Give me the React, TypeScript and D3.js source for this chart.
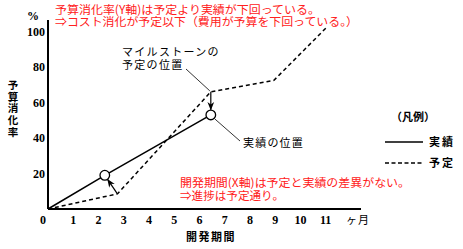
import React from 'react';
import * as d3 from 'd3';

// months / budget-consumption %
const actualMonths = [0, 2.25, 6.45];
const actualValues = [0, 19, 53];
const plannedMonths = [0, 2.75, 6.45, 8.95, 11.05];
const plannedValues = [0, 8.5, 66, 72.5, 102.5];
const xTicks = [0, 1, 2, 3, 4, 5, 6, 7, 8, 9, 10, 11];
const yTicks = [20, 40, 60, 80, 100];

const W = 463;
const H = 249;

const jp = "'Noto Sans CJK JP', 'Noto Sans', sans-serif";
const num = "'Liberation Serif', 'DejaVu Serif', serif";

export default function App() {
	const x = d3.scaleLinear().domain([0, 12.4]).range([48, 361]);
	const y = d3.scaleLinear().domain([0, 100]).range([209, 31.5]);

	const actual = actualMonths.map((m, i) => [m, actualValues[i]] as [number, number]);
	const planned = plannedMonths.map((m, i) => [m, plannedValues[i]] as [number, number]);

	const line = d3.line<[number, number]>()
		.x(d => x(d[0]))
		.y(d => y(d[1]));

	const r = 4.8;
	// arrow from planned point to actual point, stopping at the circle edge
	const arrow = (p: [number, number], a: [number, number]) => {
		const x1 = x(p[0]), y1 = y(p[1]);
		const x2 = x(a[0]), y2 = y(a[1]);
		const len = Math.hypot(x2 - x1, y2 - y1);
		const ux = (x2 - x1) / len, uy = (y2 - y1) / len;
		return { x1, y1, x2: x2 - ux * (r + 0.5), y2: y2 - uy * (r + 0.5) };
	};
	const a1 = arrow(planned[1], actual[1]);
	const a2 = arrow(planned[2], actual[2]);

	return (
		<svg width={W} height={H} style={{ position: 'absolute', left: 0, top: 0, background: '#fff' }}>
			<defs>
				<marker id="ah" viewBox="0 0 10 10" refX="9" refY="5" markerWidth="7" markerHeight="7" orient="auto">
					<path d="M0,1 L10,5 L0,9 L3,5 Z" fill="#000" />
				</marker>
			</defs>

			{/* axes */}
			<line x1={x(0)} y1={y(106.5)} x2={x(0)} y2={y(0)} stroke="#000" strokeWidth={2} />
			<line x1={x(0)} y1={y(0)} x2={x(12.4)} y2={y(0)} stroke="#000" strokeWidth={2} />

			{/* tick labels */}
			{yTicks.map(t => (
				<text key={t} x={45} y={y(t) + 4} textAnchor="end" fontFamily={num} fontWeight="bold" fontSize={12}>{t}</text>
			))}
			<text x={33} y={20} textAnchor="middle" fontFamily={num} fontWeight="bold" fontSize={12}>%</text>
			{xTicks.map(t => (
				<text key={t} x={t === 0 ? 43 : x(t)} y={224} textAnchor="middle" fontFamily={num} fontWeight="bold" fontSize={12}>{t}</text>
			))}
			<text x={358} y={224} textAnchor="middle" fontFamily={jp} fontSize={11} letterSpacing={1}>ヶ月</text>
			<text x={211} y={241} textAnchor="middle" fontFamily={jp} fontWeight="bold" fontSize={11} letterSpacing={1.5}>開発期間</text>
			{['予', '算', '消', '化', '率'].map((c, i) => (
				<text key={c} x={13} y={89 + i * 11.7} textAnchor="middle" fontFamily={jp} fontWeight="bold" fontSize={10.5}>{c}</text>
			))}

			{/* series */}
			<path d={line(planned) as string} fill="none" stroke="#000" strokeWidth={1.5} strokeDasharray="4,3" />
			<path d={line(actual) as string} fill="none" stroke="#000" strokeWidth={1.5} />

			{/* arrows planned -> actual */}
			<line {...a1} stroke="#000" strokeWidth={1.2} markerEnd="url(#ah)" />
			<line {...a2} stroke="#000" strokeWidth={1.2} markerEnd="url(#ah)" />

			{actual.slice(1).map((d, i) => (
				<circle key={i} cx={x(d[0])} cy={y(d[1])} r={r} fill="#fff" stroke="#000" strokeWidth={1.3} />
			))}

			{/* annotations */}
			<line x1={186} y1={69} x2={x(planned[2][0]) - 1} y2={y(planned[2][1]) - 1} stroke="#000" strokeWidth={0.8} />
			<text x={122} y={56} fontFamily={jp} fontSize={11} letterSpacing={1.3}>マイルストーンの</text>
			<text x={122} y={69} fontFamily={jp} fontSize={11} letterSpacing={1.3}>予定の位置</text>
			<line x1={x(actual[2][0]) + 4} y1={y(actual[2][1]) + 4} x2={240} y2={141} stroke="#000" strokeWidth={0.8} />
			<text x={243} y={147} fontFamily={jp} fontSize={11} letterSpacing={1.2}>実績の位置</text>

			{/* red notes */}
			<text x={55} y={14} fill="#ff2020" fontFamily={jp} fontSize={11.5} textLength={265} lengthAdjust="spacingAndGlyphs">予算消化率(Y軸)は予定より実績が下回っている。</text>
			<text x={55} y={26} fill="#ff2020" fontFamily={jp} fontSize={11.5} textLength={303} lengthAdjust="spacingAndGlyphs">⇒コスト消化が予定以下（費用が予算を下回っている。）</text>
			<text x={180} y={187} fill="#ff2020" fontFamily={jp} fontSize={11.5} textLength={230} lengthAdjust="spacingAndGlyphs">開発期間(X軸)は予定と実績の差異がない。</text>
			<text x={180} y={200} fill="#ff2020" fontFamily={jp} fontSize={11.5} textLength={104} lengthAdjust="spacingAndGlyphs">⇒進捗は予定通り。</text>

			{/* legend */}
			<text x={391} y={121} fontFamily={jp} fontWeight="bold" fontSize={11}>（凡例）</text>
			<line x1={385} y1={142} x2={423} y2={142} stroke="#000" strokeWidth={1.5} />
			<text x={429} y={146} fontFamily={jp} fontWeight="bold" fontSize={11} letterSpacing={2}>実績</text>
			<line x1={385} y1={163} x2={423} y2={163} stroke="#000" strokeWidth={1.5} strokeDasharray="4,2.5" />
			<text x={429} y={167} fontFamily={jp} fontWeight="bold" fontSize={11} letterSpacing={2}>予定</text>
		</svg>
	);
}
